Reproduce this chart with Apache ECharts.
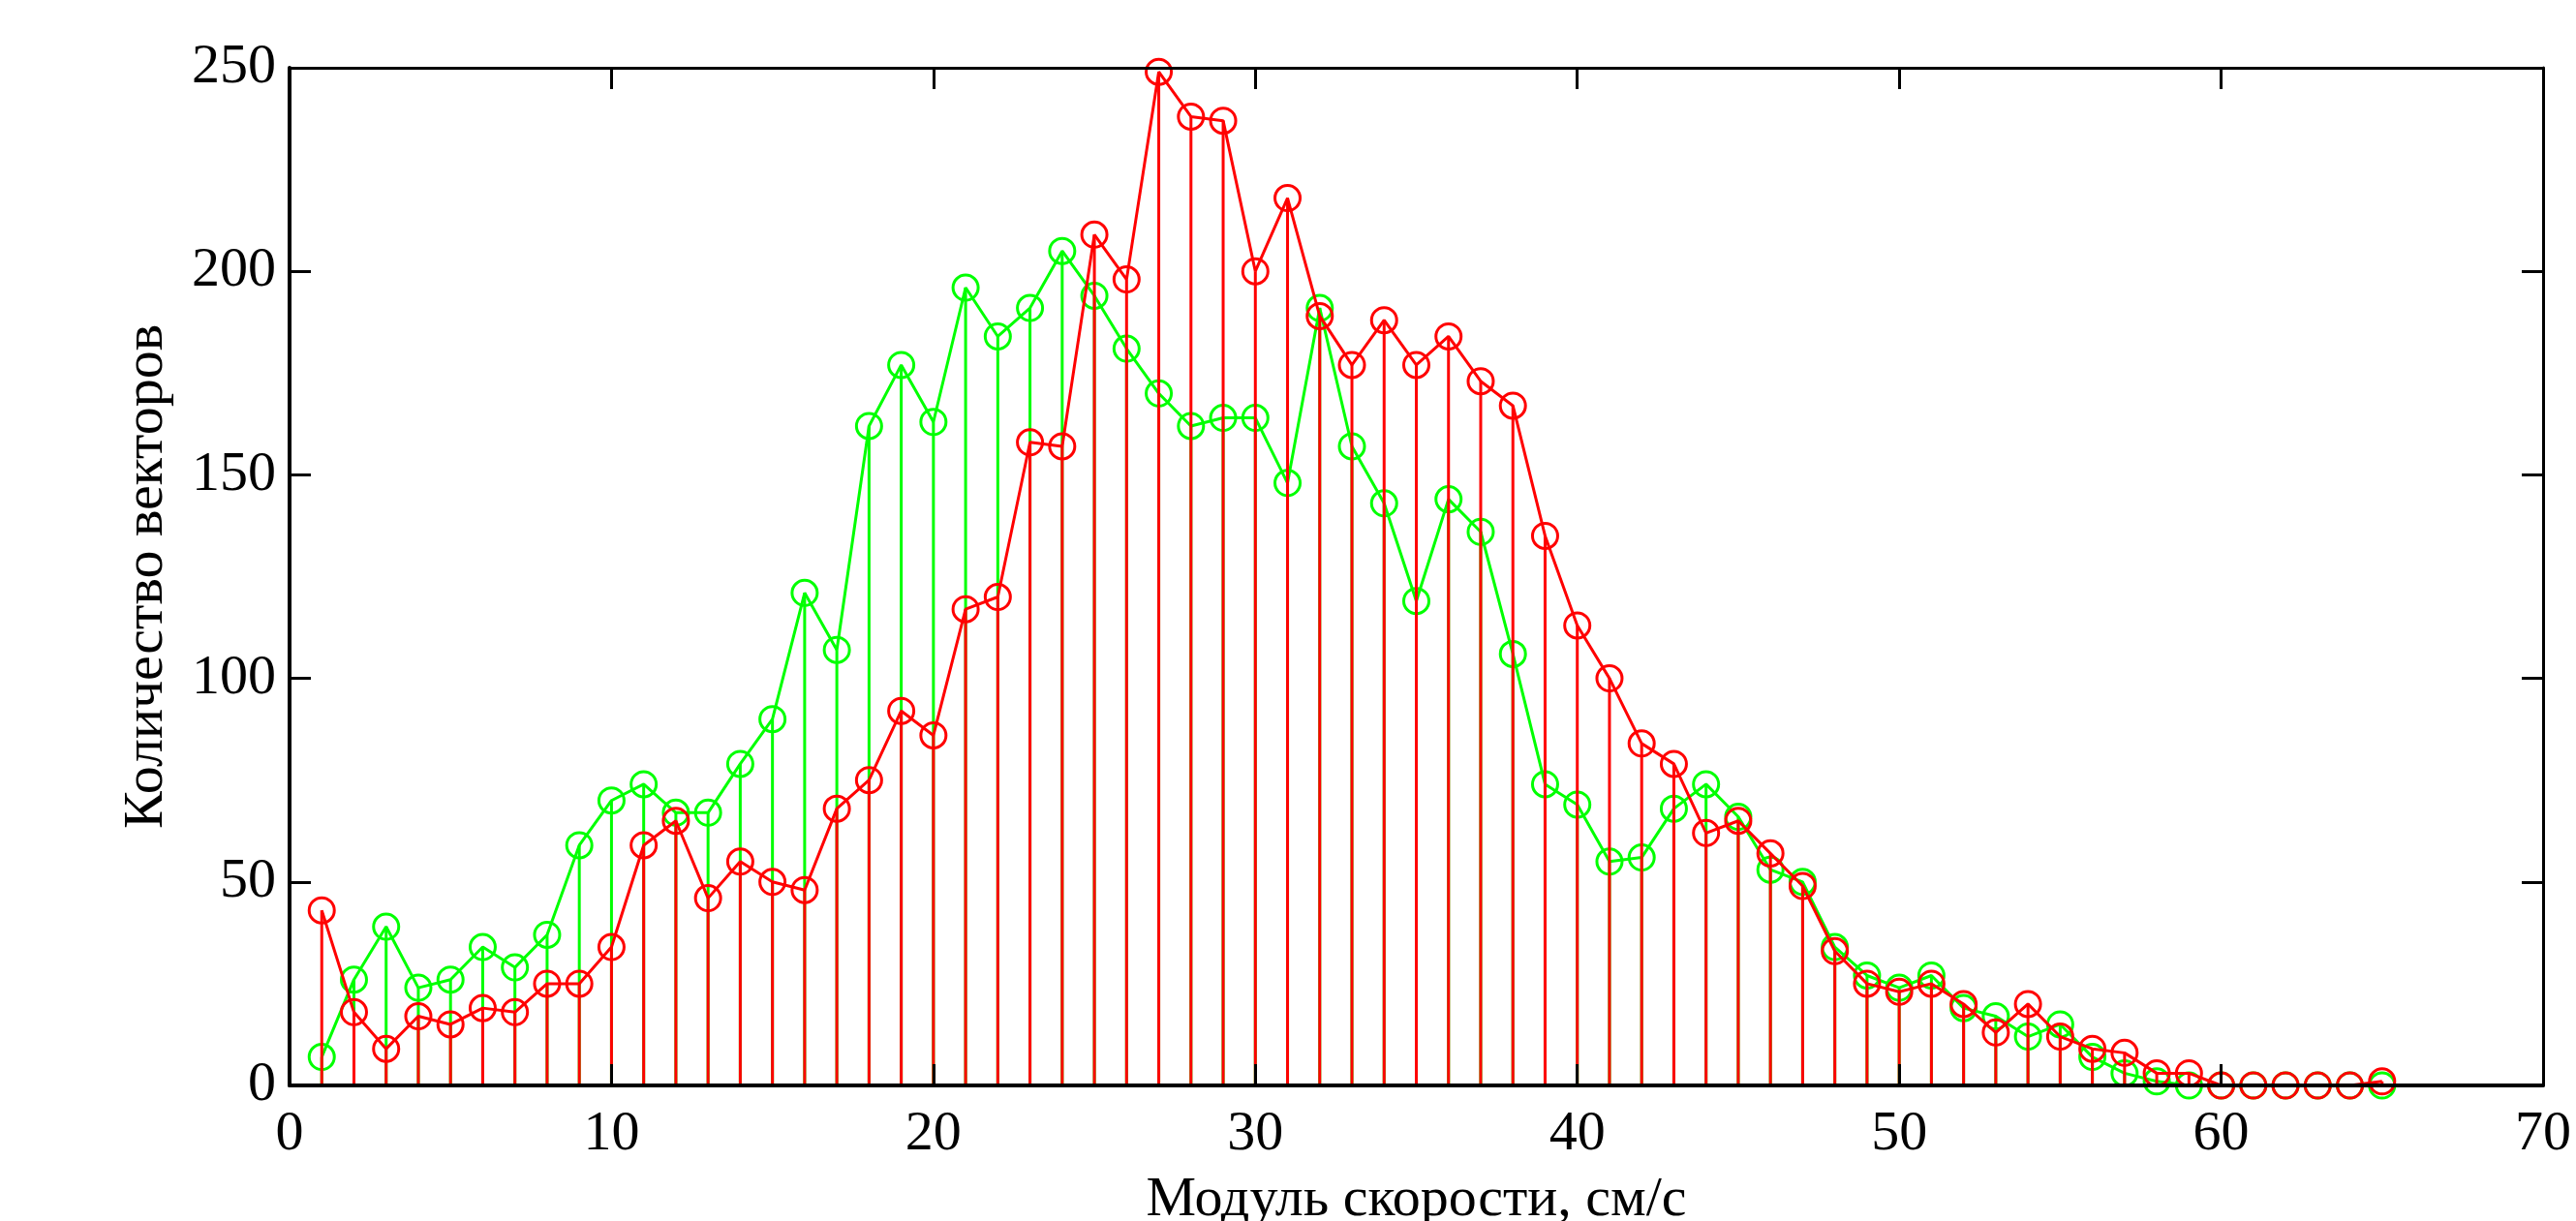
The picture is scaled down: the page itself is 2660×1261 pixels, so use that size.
<!DOCTYPE html>
<html>
<head>
<meta charset="utf-8">
<script src="https://cdn.jsdelivr.net/npm/echarts@6/dist/echarts.min.js"></script>
<style>
html,body{margin:0;padding:0;background:#fff;}
#main{width:2660px;height:1261px;}
</style>
</head>
<body>
<div id="main"></div>
<script>
const speeds = [1,2,3,4,5,6,7,8,9,10,11,12,13,14,15,16,17,18,19,20,21,22,23,24,25,26,27,28,29,30,31,32,33,34,35,36,37,38,39,40,41,42,43,44,45,46,47,48,49,50,51,52,53,54,55,56,57,58,59,60,61,62,63,64,65];
const redCounts = [43,18,9,17,15,19,18,25,25,34,59,65,46,55,50,48,68,75,92,86,117,120,158,157,209,198,249,238,237,200,218,189,177,188,177,184,173,167,135,113,100,84,79,62,65,57,49,33,25,23,25,20,13,20,12,9,8,3,3,0,0,0,0,0,1];
const greenCounts = [7,26,39,24,26,34,29,37,59,70,74,67,67,79,90,121,107,162,177,163,196,184,191,205,194,181,170,162,164,164,148,191,157,143,119,144,136,106,74,69,55,56,68,74,66,53,50,34,27,24,27,19,17,12,15,7,3,1,0,0,0,0,0,0,0];
const xTitle = 'Модуль скорости, см/с';
const yTitle = 'Количество векторов';

const FONT = 'Liberation Serif';
const GREEN = '#00ff00';
const RED = '#ff0000';

const chart = echarts.init(document.getElementById('main'), null, {renderer:'canvas'});

function pairs(vals){ return speeds.map((x,i)=>[x, vals[i]]); }

const mainLine = {color:'#000', width:4};
const sideLine = {color:'#000', width:3};
const tickStyle = {inside:true, length:22, lineStyle:{color:'#000', width:3}};

const option = {
  animation:false,
  backgroundColor:'#ffffff',
  grid:{left:299, right:34, top:70, bottom:140, containLabel:false, outerBoundsMode:'none'},
  xAxis:[
    {type:'value', min:0, max:70, interval:10, position:'bottom', z:10,
     axisLine:{show:true, onZero:false, lineStyle:mainLine},
     axisTick:tickStyle,
     axisLabel:{fontFamily:FONT, fontSize:58, color:'#000', margin:22},
     splitLine:{show:false},
     name:xTitle, nameLocation:'middle', nameGap:90,
     nameTextStyle:{fontFamily:FONT, fontSize:58, color:'#000'}},
    {type:'value', min:0, max:70, interval:10, position:'top', z:10,
     axisLine:{show:true, onZero:false, lineStyle:sideLine},
     axisTick:tickStyle,
     axisLabel:{show:false}, splitLine:{show:false}}
  ],
  yAxis:[
    {type:'value', min:0, max:250, interval:50, position:'left', z:10,
     axisLine:{show:true, onZero:false, lineStyle:mainLine},
     axisTick:tickStyle,
     axisLabel:{fontFamily:FONT, fontSize:58, color:'#000', margin:14},
     splitLine:{show:false},
     name:yTitle, nameLocation:'middle', nameGap:118,
     nameTextStyle:{fontFamily:FONT, fontSize:58, color:'#000'}},
    {type:'value', min:0, max:250, interval:50, position:'right', z:10,
     axisLine:{show:true, onZero:false, lineStyle:sideLine},
     axisTick:tickStyle,
     axisLabel:{show:false}, splitLine:{show:false}}
  ],
  series:[
    {type:'bar', name:'g-stem', data:pairs(greenCounts), barWidth:3, barGap:'-100%',
     itemStyle:{color:GREEN}, z:2, silent:true},
    {type:'line', name:'g-line', data:pairs(greenCounts), z:3, silent:true,
     lineStyle:{color:GREEN, width:3},
     symbol:'circle', symbolSize:26, showAllSymbol:true,
     itemStyle:{color:'transparent', borderColor:GREEN, borderWidth:3}},
    {type:'bar', name:'r-stem', data:pairs(redCounts), barWidth:3, barGap:'-100%',
     itemStyle:{color:RED}, z:4, silent:true},
    {type:'line', name:'r-line', data:pairs(redCounts), z:5, silent:true,
     lineStyle:{color:RED, width:3},
     symbol:'circle', symbolSize:26, showAllSymbol:true,
     itemStyle:{color:'transparent', borderColor:RED, borderWidth:3}}
  ]
};
chart.setOption(option);
</script>
</body>
</html>
